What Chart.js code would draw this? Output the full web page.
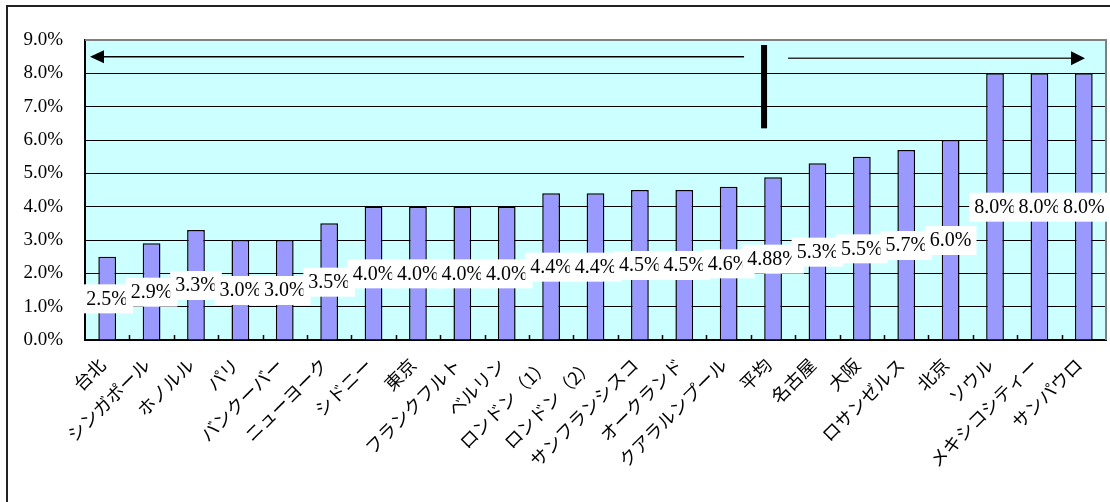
<!DOCTYPE html>
<html>
<head>
<meta charset="utf-8">
<script src="https://cdn.jsdelivr.net/npm/chart.js@4.4.0/dist/chart.umd.min.js"></script>
<style>
  body { margin: 0; background: #fff; }
  #wrap { position: absolute; left: 0; top: 0; width: 1110px; height: 502px; }
</style>
</head>
<body>
<div id="wrap"><canvas id="chart" width="1110" height="502"></canvas></div>
<script>
// categories (cities) and rates in percent
const cities = ['台北', 'シンガポール', 'ホノルル', 'パリ', 'バンクーバー', 'ニューヨーク', 'シドニー', '東京',
    'フランクフルト', 'ベルリン', 'ロンドン（1）', 'ロンドン（2）', 'サンフランシスコ', 'オークランド',
    'クアラルンプール', '平均', '名古屋', '大阪', 'ロサンゼルス', '北京', 'ソウル', 'メキシコシティー', 'サンパウロ'];
const rates = [2.5, 2.9, 3.3, 3.0, 3.0, 3.5, 4.0, 4.0, 4.0, 4.0, 4.4, 4.4, 4.5, 4.5, 4.6, 4.88,
    5.3, 5.5, 5.7, 6.0, 8.0, 8.0, 8.0];
const rateLabels = ['2.5%', '2.9%', '3.3%', '3.0%', '3.0%', '3.5%', '4.0%', '4.0%', '4.0%', '4.0%',
    '4.4%', '4.4%', '4.5%', '4.5%', '4.6%', '4.88%', '5.3%', '5.5%', '5.7%', '6.0%', '8.0%', '8.0%', '8.0%'];
const averageIndex = 15;

const serif = '"Liberation Serif", "DejaVu Serif", serif';

// background of plot area, outer frame, small ticks, arrows and value boxes
const decorations = {
    id: 'decorations',
    beforeDraw(chart) {
        const { ctx, chartArea: a } = chart;
        ctx.save();
        ctx.fillStyle = '#fff';
        ctx.fillRect(0, 0, chart.width, chart.height);
        ctx.fillStyle = '#CCFFFF';
        ctx.fillRect(a.left, a.top, a.right - a.left, a.bottom - a.top);
        ctx.restore();
    },
    beforeDatasetsDraw(chart) {
        const { ctx, chartArea: a, scales: { x, y } } = chart;
        ctx.save();
        // grey top / right edges of plot area
        ctx.strokeStyle = '#808080';
        ctx.lineWidth = 2;
        ctx.beginPath();
        ctx.moveTo(a.left, a.top);
        ctx.lineTo(a.right, a.top);
        ctx.lineTo(a.right, a.bottom);
        ctx.stroke();
        // inner tick marks between categories
        ctx.strokeStyle = '#000';
        ctx.lineWidth = 1.5;
        for (let i = 1; i < cities.length; i++) {
            const bx = Math.round((x.getPixelForValue(i - 1) + x.getPixelForValue(i)) / 2) + 0.5;
            ctx.beginPath();
            ctx.moveTo(bx, a.bottom);
            ctx.lineTo(bx, a.bottom - 5);
            ctx.stroke();
        }
        // arrows and the divider at the average
        const avgX = x.getPixelForValue(averageIndex);
        const ay = y.getPixelForValue(8.5);
        ctx.strokeStyle = '#000';
        ctx.fillStyle = '#000';
        ctx.lineWidth = 1.5;
        ctx.beginPath();
        ctx.moveTo(a.left + 18, ay);
        ctx.lineTo(avgX - 29, ay);
        ctx.stroke();
        ctx.beginPath();
        ctx.moveTo(a.left + 5, ay);
        ctx.lineTo(a.left + 19, ay - 6.5);
        ctx.lineTo(a.left + 19, ay + 6.5);
        ctx.closePath();
        ctx.fill();
        const ry = ay + 1.5;
        ctx.strokeStyle = '#333';
        ctx.beginPath();
        ctx.moveTo(avgX + 15, ry);
        ctx.lineTo(a.right - 32, ry);
        ctx.stroke();
        ctx.beginPath();
        ctx.moveTo(a.right - 21, ry);
        ctx.lineTo(a.right - 35, ry - 7);
        ctx.lineTo(a.right - 35, ry + 7);
        ctx.closePath();
        ctx.fill();
        ctx.fillRect(avgX - 12, y.getPixelForValue(8.85), 6, y.getPixelForValue(6.35) - y.getPixelForValue(8.85));
        ctx.restore();
    },
    afterDatasetsDraw(chart) {
        const { ctx, scales: { y } } = chart;
        const bars = chart.getDatasetMeta(0).data;
        ctx.save();
        ctx.font = '20px ' + serif;
        ctx.textAlign = 'center';
        ctx.textBaseline = 'middle';
        bars.forEach((bar, i) => {
            const text = rateLabels[i];
            const w = ctx.measureText(text).width + 10;
            const cy = y.getPixelForValue(rates[i] / 2);
            ctx.fillStyle = '#fff';
            ctx.fillRect(bar.x - w / 2, cy - 14, w, 29);
            ctx.fillStyle = '#000';
            ctx.fillText(text, bar.x, cy + 1);
        });
        ctx.restore();
    },
    afterDraw(chart) {
        const { ctx } = chart;
        ctx.save();
        ctx.strokeStyle = '#222';
        ctx.lineWidth = 2;
        ctx.beginPath();
        ctx.moveTo(7, chart.height);
        ctx.lineTo(7, 6);
        ctx.lineTo(chart.width, 6);
        ctx.stroke();
        ctx.restore();
    }
};

new Chart(document.getElementById('chart'), {
    type: 'bar',
    data: {
        labels: cities,
        datasets: [{
            data: rates,
            backgroundColor: '#9999FF',
            borderColor: '#000',
            borderWidth: 1.5,
            barPercentage: 0.4,
            categoryPercentage: 1.0
        }]
    },
    options: {
        responsive: false,
        animation: false,
        layout: { padding: { left: 0, top: 40, right: 4, bottom: 0 } },
        plugins: {
            legend: { display: false },
            tooltip: { enabled: false }
        },
        scales: {
            x: {
                grid: { display: false, drawTicks: false },
                border: { display: true, color: '#000', width: 2 },
                ticks: {
                    color: '#000',
                    font: { family: '"Noto Sans CJK JP", sans-serif', size: 18 },
                    minRotation: 45,
                    maxRotation: 45,
                    autoSkip: false,
                    labelOffset: -5,
                    padding: 14
                },
                afterFit(scale) {
                    scale.height = 162;
                    scale.paddingLeft = 0;
                    scale.paddingRight = 0;
                }
            },
            y: {
                min: 0,
                max: 9,
                grid: { color: '#000', lineWidth: 1, drawTicks: false },
                border: { display: true, color: '#000', width: 2 },
                ticks: {
                    stepSize: 1,
                    color: '#000',
                    font: { family: serif, size: 19 },
                    padding: 22,
                    callback: v => v.toFixed(1) + '%'
                },
                afterFit(scale) {
                    scale.width = 85;
                    scale.paddingTop = 0;
                    scale.paddingBottom = 0;
                }
            }
        }
    },
    plugins: [decorations]
});
</script>
</body>
</html>
